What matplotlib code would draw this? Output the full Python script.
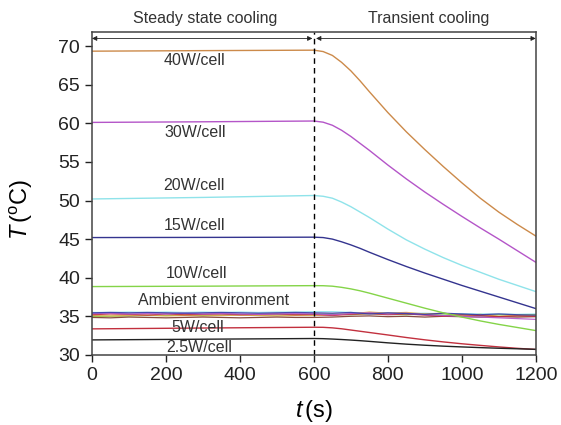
import matplotlib
matplotlib.use("Agg")
import matplotlib.pyplot as plt

plt.rcParams['font.family'] = ['Liberation Sans', 'DejaVu Sans']
plt.rcParams['mathtext.fontset'] = 'custom'
plt.rcParams['mathtext.rm'] = 'Liberation Sans'
plt.rcParams['mathtext.it'] = 'Liberation Sans:italic'

# time grid (s) for the heating-power curves
t = [0, 300, 600, 625, 650, 675, 700, 725, 750, 800, 850, 900, 950, 1000, 1050, 1100, 1150, 1200]

T_40 = [69.35, 69.42, 69.48, 69.3, 68.8, 67.9, 66.8, 65.5, 64.1, 61.4, 58.9, 56.6, 54.4, 52.3, 50.3, 48.5, 46.9, 45.4]
T_30 = [60.12, 60.2, 60.3, 60.15, 59.75, 59.1, 58.3, 57.4, 56.5, 54.6, 52.8, 51.1, 49.5, 47.95, 46.45, 45.0, 43.5, 42.0]
T_20 = [50.2, 50.4, 50.65, 50.55, 50.3, 49.8, 49.2, 48.5, 47.8, 46.3, 44.9, 43.7, 42.6, 41.6, 40.7, 39.8, 39.0, 38.2]
T_15 = [45.2, 45.22, 45.25, 45.2, 45.0, 44.65, 44.25, 43.8, 43.3, 42.35, 41.45, 40.6, 39.8, 39.0, 38.25, 37.5, 36.75, 36.0]
T_10 = [38.85, 38.9, 38.97, 38.96, 38.9, 38.75, 38.55, 38.3, 38.0, 37.35, 36.7, 36.05, 35.45, 34.9, 34.4, 33.95, 33.55, 33.15]
T_5 = [33.37, 33.48, 33.58, 33.57, 33.5, 33.38, 33.22, 33.06, 32.9, 32.58, 32.25, 31.95, 31.68, 31.44, 31.23, 31.03, 30.85, 30.7]
T_25 = [31.94, 32.03, 32.12, 32.1, 32.05, 31.99, 31.92, 31.84, 31.75, 31.56, 31.39, 31.25, 31.13, 31.03, 30.94, 30.86, 30.79, 30.72]

curves = [T_40, T_30, T_20, T_15, T_10, T_5, T_25]
curve_colors = ['#cc8a4a', '#b455c8', '#8fe3ea', '#34348f', '#84d448', '#c2303e', '#222222']
labels = ['40W/cell', '30W/cell', '20W/cell', '15W/cell', '10W/cell',
          'Ambient environment', '5W/cell', '2.5W/cell']
label_x = [278, 278, 276, 278, 283, 330, 285, 291]
label_y = [68.1, 58.75, 52.0, 46.8, 40.6, 37.1, 33.6, 31.0]

# ambient temperature recordings
t_amb = [0, 50, 100, 150, 200, 250, 300, 350, 400, 450, 500, 550, 600,
         650, 700, 750, 800, 850, 900, 950, 1000, 1050, 1100, 1150, 1200]
amb_blue = [35.45, 35.5, 35.45, 35.5, 35.45, 35.4, 35.45, 35.5, 35.45, 35.4, 35.45, 35.5, 35.45,
            35.4, 35.5, 35.3, 35.45, 35.35, 35.25, 35.4, 35.3, 35.2, 35.3, 35.2, 35.15]
amb_red = [35.2, 35.3, 35.25, 35.15, 35.3, 35.2, 35.25, 35.3, 35.2, 35.25, 35.3, 35.2, 35.25,
           35.1, 35.25, 35.35, 35.2, 35.3, 35.15, 35.0, 35.2, 35.1, 34.95, 35.05, 35.0]
amb_magenta = [35.35, 35.4, 35.3, 35.35, 35.3, 35.4, 35.3, 35.35, 35.3, 35.25, 35.3, 35.35, 35.3,
               35.2, 35.35, 35.45, 35.3, 35.4, 35.2, 35.1, 35.0, 34.9, 34.8, 34.7, 34.6]
amb_green = [34.95, 35.0, 35.05, 35.1, 35.1, 35.15, 35.1, 35.15, 35.2, 35.15, 35.2, 35.2, 35.25,
             35.3, 35.2, 35.35, 35.25, 35.2, 35.3, 35.15, 35.2, 35.1, 35.2, 35.15, 35.2]
amb_brown = [34.85, 34.8, 34.9, 34.85, 34.8, 34.85, 34.9, 34.85, 34.8, 34.85, 34.9, 34.85, 34.85,
             34.9, 35.0, 35.05, 34.95, 35.0, 34.9, 35.0, 34.95, 34.9, 34.95, 34.9, 34.95]
amb_orange = [35.1, 35.05, 35.1, 35.15, 35.05, 35.1, 35.05, 35.1, 35.15, 35.1, 35.05, 35.1, 35.1,
              35.2, 35.3, 35.55, 35.4, 35.5, 35.3, 35.4, 35.1, 35.25, 35.0, 35.1, 35.05]
amb_cyan = [35.5, 35.5, 35.55, 35.5, 35.55, 35.5, 35.55, 35.5, 35.55, 35.5, 35.55, 35.55, 35.6,
            35.6, 35.5, 35.45, 35.4, 35.35, 35.4, 35.3, 35.35, 35.3, 35.3, 35.25, 35.3]
ambient = [amb_cyan, amb_green, amb_orange, amb_brown, amb_red, amb_magenta, amb_blue]
amb_colors = ['#8fe3ea', '#84d448', '#d9a94a', '#7a3a2a', '#c2303e', '#b455c8', '#3a3aa8']

fig = plt.figure(figsize=(5.61, 4.25), dpi=100)
ax = fig.add_axes([0.164, 0.165, 0.791, 0.76])

for vals, c in zip(ambient, amb_colors):
    ax.plot(t_amb, vals, color=c, lw=0.9, alpha=0.9)

for vals, c in zip(curves, curve_colors):
    ax.plot(t, vals, color=c, lw=1.0)

for lab, x, y in zip(labels, label_x, label_y):
    ax.text(x, y, lab, fontsize=11.5, color='#333333', ha='center', va='center')

ax.axvline(600, color='k', lw=1.0, ls=(0, (4, 3)))

arr = dict(arrowstyle='<|-|>', color='#222222', lw=0.6, mutation_scale=7, shrinkA=0, shrinkB=0)
ax.annotate('', xy=(0, 71.0), xytext=(596, 71.0), arrowprops=arr)
ax.annotate('', xy=(606, 71.0), xytext=(1200, 71.0), arrowprops=arr)
ax.text(305, 73.6, 'Steady state cooling', fontsize=11.5, color='#333333',
        ha='center', va='center', clip_on=False)
ax.text(911, 73.6, 'Transient cooling', fontsize=11.5, color='#333333',
        ha='center', va='center', clip_on=False)

ax.set_xlim(0, 1200)
ax.set_ylim(30, 71.85)
ax.set_xticks([0, 200, 400, 600, 800, 1000, 1200])
ax.set_yticks([30, 35, 40, 45, 50, 55, 60, 65, 70])
ax.tick_params(direction='out', length=5, width=1, labelsize=14, colors='#222222',
               top=False, right=False)
for s in ax.spines.values():
    s.set_color('#444444')
    s.set_linewidth(1.1)

ax.set_xlabel(r'$t\,$(s)', fontsize=17)
ax.set_ylabel(r'$T\,$($^{\mathrm{o}}$C)', fontsize=17)
ax.xaxis.set_label_coords(0.5, -0.135)
ax.yaxis.set_label_coords(-0.128, 0.45)

fig.savefig('out.png', dpi=100)
